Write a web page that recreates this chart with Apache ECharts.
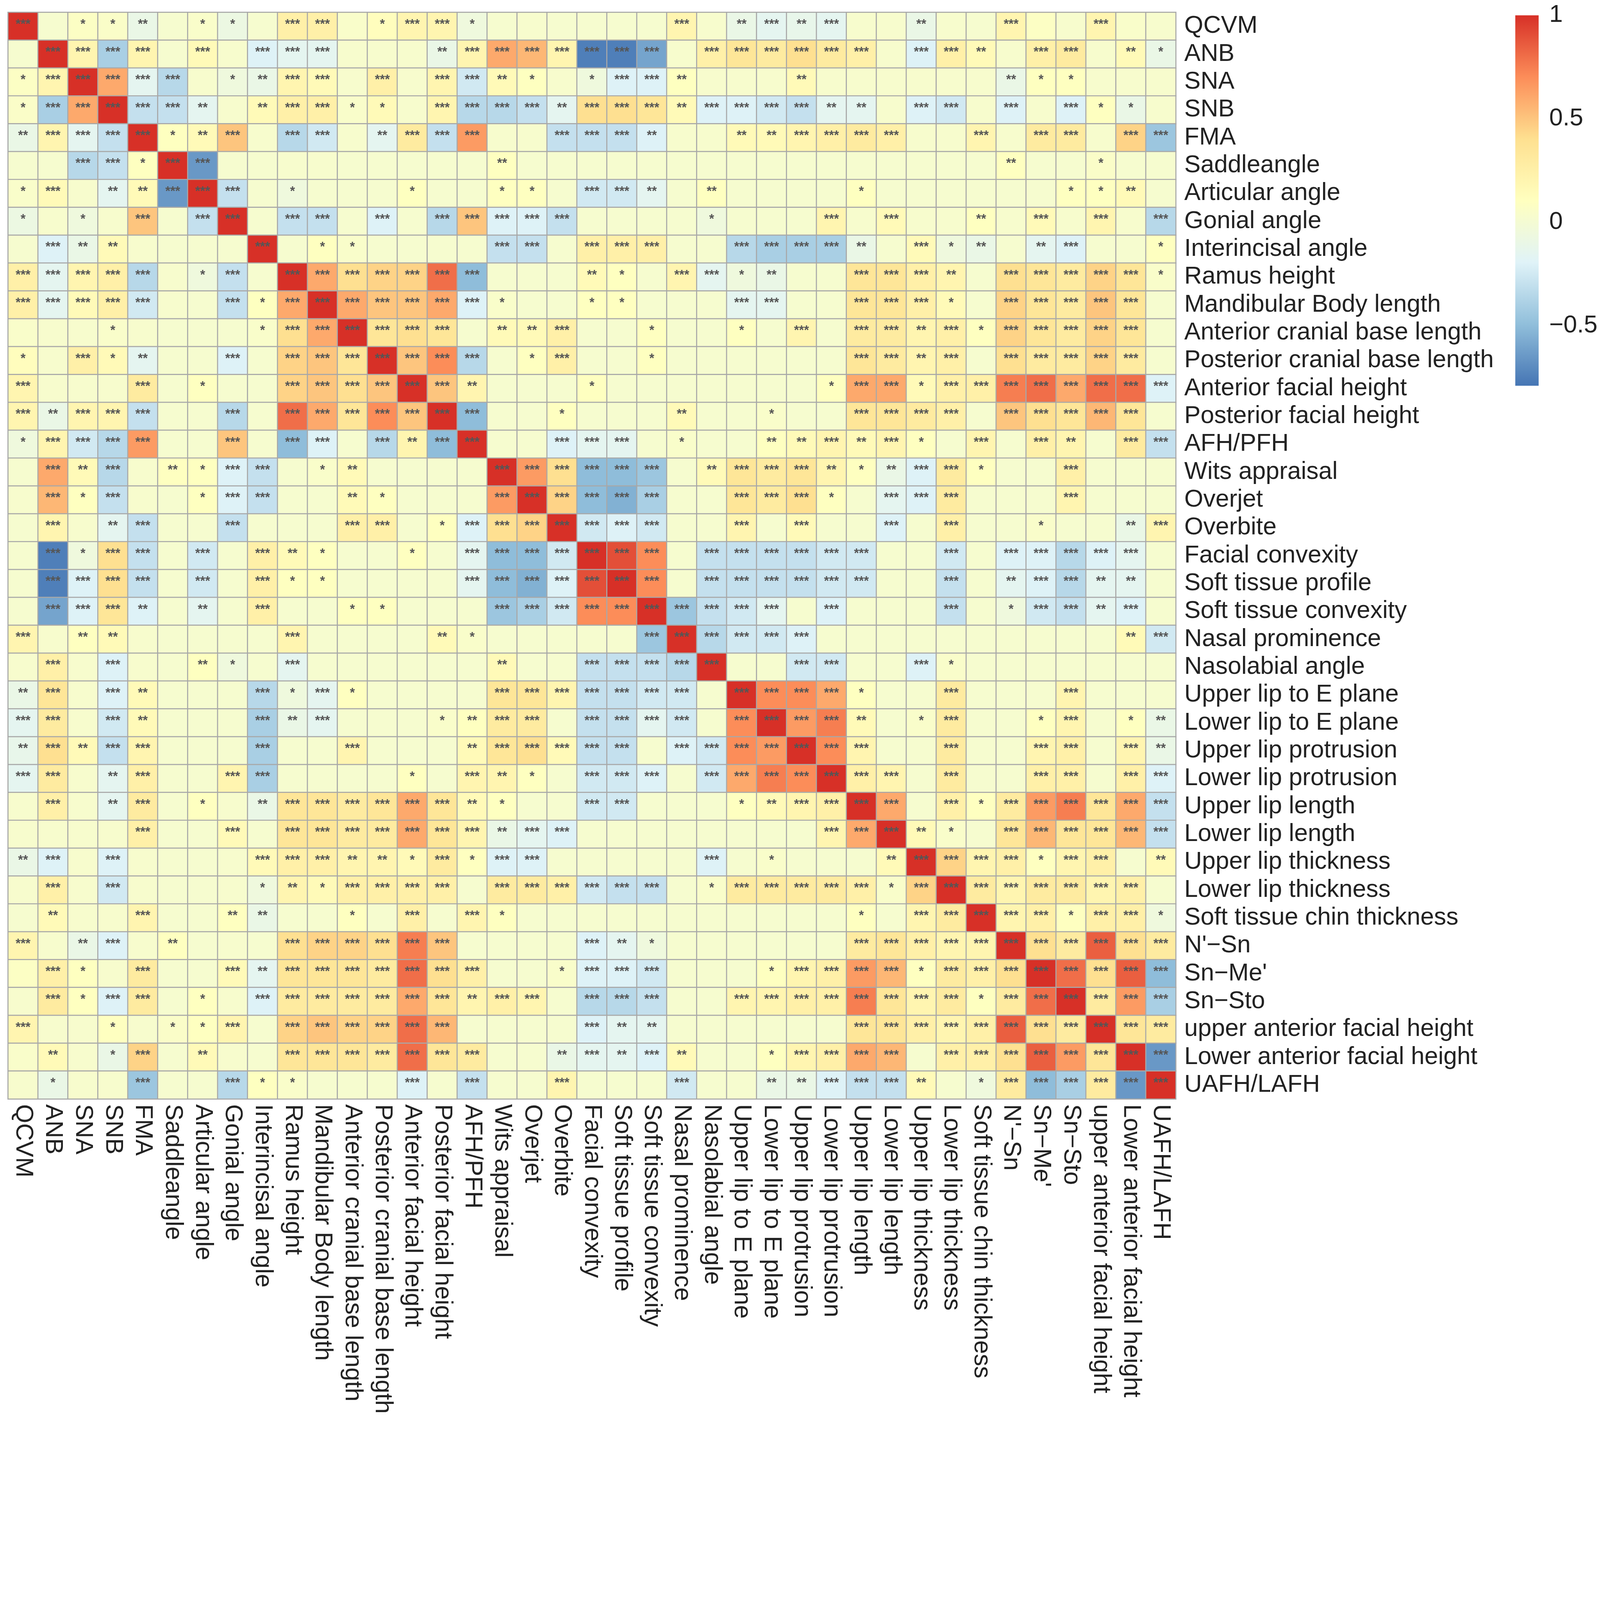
<!DOCTYPE html>
<html><head><meta charset="utf-8">
<script src="https://cdn.jsdelivr.net/npm/echarts@6/dist/echarts.min.js"></script>
<style>html,body{margin:0;padding:0;background:#fff;overflow:hidden}#c{width:100vw;height:100vh}</style>
</head><body><div id="c"></div>
<script>
const categories = ["QCVM","ANB","SNA","SNB","FMA","Saddleangle","Articular angle","Gonial angle","Interincisal angle","Ramus height","Mandibular Body length","Anterior cranial base length","Posterior cranial base length","Anterior facial height","Posterior facial height","AFH/PFH","Wits appraisal","Overjet","Overbite","Facial convexity","Soft tissue profile","Soft tissue convexity","Nasal prominence","Nasolabial angle","Upper lip to E plane","Lower lip to E plane","Upper lip protrusion","Lower lip protrusion","Upper lip length","Lower lip length","Upper lip thickness","Lower lip thickness","Soft tissue chin thickness","N'\u2212Sn","Sn\u2212Me'","Sn\u2212Sto","upper anterior facial height","Lower anterior facial height","UAFH/LAFH"];
const corrUpper = [
[0.02,0.08,0.06,-0.1,0.02,0.05,-0.08,0.02,0.25,0.25,0.05,0.12,0.2,0.2,-0.05,0.02,0.03,0.02,0.02,0.02,0.02,0.2,0.03,-0.1,-0.15,-0.12,-0.15,0.03,0.03,-0.1,0.03,0.02,0.2,0.08,0.03,0.2,0.05,0.03],
[0.2,-0.4,0.2,0.02,0.15,0.03,-0.2,-0.15,-0.15,0.03,0.03,0.03,-0.1,0.2,0.6,0.55,0.2,-0.75,-0.75,-0.6,0.03,0.25,0.35,0.3,0.4,0.3,0.25,0.03,-0.2,0.25,0.15,0.03,0.25,0.3,0.03,0.15,-0.1],
[0.6,-0.15,-0.35,0.03,-0.05,-0.1,0.2,0.15,0.03,0.25,0.03,0.2,-0.25,0.15,0.1,0.03,-0.05,-0.2,-0.2,0.1,0.03,0.03,0.03,0.15,0.03,0.03,0.03,0.03,0.03,0.03,-0.1,0.1,0.1,0.03,0.03,0.03],
[-0.3,-0.3,-0.15,0.03,0.15,0.25,0.25,0.05,0.15,0.03,0.2,-0.35,-0.35,-0.3,-0.15,0.4,0.4,0.35,0.15,-0.2,-0.2,-0.25,-0.3,-0.15,-0.15,0.03,-0.2,-0.25,0.03,-0.2,0.03,-0.2,0.1,-0.1,0.03],
[0.1,0.15,0.5,0.03,-0.35,-0.25,0.03,-0.15,0.3,-0.3,0.65,0.03,0.03,-0.3,-0.3,-0.3,-0.2,0.03,0.03,0.15,0.15,0.2,0.25,0.3,0.25,0.03,0.03,0.2,0.03,0.3,0.3,0.03,0.45,-0.45],
[-0.65,0.02,0.02,0.03,0.03,0.02,0.02,0.02,0.02,0.02,0.1,0.02,0.02,0.02,0.02,0.02,0.02,0.02,0.02,0.02,0.02,0.02,0.02,0.02,0.02,0.02,0.02,0.1,0.02,0.02,0.06,0.02,0.02],
[-0.3,0.02,-0.05,0.02,0.02,0.02,0.1,0.02,0.02,0.1,0.1,0.02,-0.25,-0.25,-0.15,0.02,0.1,0.02,0.02,0.02,0.02,0.1,0.02,0.02,0.02,0.02,0.02,0.02,0.1,0.1,0.15,0.02],
[0.02,-0.3,-0.3,0.02,-0.2,0.02,-0.35,0.5,-0.2,-0.2,-0.3,0.02,0.02,0.02,0.02,-0.05,0.02,0.02,0.02,0.2,0.03,0.15,0.03,0.03,0.1,0.03,0.15,0.03,0.2,0.03,-0.35],
[0.02,0.1,0.05,0.02,0.02,0.02,0.02,-0.3,-0.3,0.02,0.25,0.25,0.25,0.02,0.02,-0.35,-0.4,-0.4,-0.4,-0.1,0.02,0.15,-0.05,-0.1,0.02,-0.15,-0.2,0.02,0.02,0.1],
[0.6,0.4,0.45,0.45,0.8,-0.5,0.02,0.02,0.02,0.15,0.1,0.02,0.2,-0.15,-0.05,-0.1,0.02,0.02,0.35,0.35,0.25,0.2,0.02,0.4,0.35,0.3,0.45,0.35,0.05],
[0.6,0.5,0.5,0.6,-0.2,0.05,0.02,0.02,0.1,0.1,0.02,0.02,0.02,-0.15,-0.15,0.02,0.02,0.35,0.35,0.25,0.15,0.02,0.45,0.35,0.3,0.5,0.35,0.02],
[0.35,0.4,0.35,0.02,0.15,0.15,0.25,0.02,0.02,0.1,0.02,0.02,0.1,0.02,0.2,0.02,0.3,0.3,0.2,0.25,0.1,0.45,0.35,0.3,0.45,0.35,0.02],
[0.5,0.7,-0.35,0.02,0.1,0.25,0.02,0.02,0.1,0.02,0.02,0.02,0.02,0.02,0.02,0.35,0.3,0.2,0.25,0.02,0.4,0.3,0.3,0.45,0.3,0.02],
[0.5,0.2,0.02,0.02,0.02,0.1,0.02,0.02,0.02,0.02,0.02,0.02,0.02,0.1,0.6,0.6,0.15,0.25,0.25,0.75,0.8,0.6,0.8,0.8,-0.2],
[-0.5,0.02,0.02,0.1,0.02,0.02,0.02,0.15,0.02,0.02,0.05,0.02,0.02,0.35,0.35,0.3,0.25,0.02,0.5,0.4,0.35,0.55,0.35,0.02],
[0.02,0.02,-0.2,-0.15,-0.15,0.02,0.05,0.02,0.02,0.1,0.15,0.2,0.15,0.2,0.1,0.02,0.2,0.02,0.25,0.2,0.02,0.3,-0.3],
[0.65,0.4,-0.5,-0.5,-0.45,0.02,0.15,0.35,0.3,0.35,0.2,0.1,-0.1,-0.2,0.3,0.1,0.02,0.02,0.25,0.02,0.02,0.02],
[0.45,-0.5,-0.55,-0.4,0.02,0.02,0.35,0.3,0.4,0.1,0.02,-0.15,-0.2,0.3,0.02,0.02,0.02,0.2,0.02,0.02,0.02],
[-0.25,-0.2,-0.25,0.02,0.02,0.2,0.02,0.15,0.02,0.02,-0.2,0.02,0.25,0.02,0.02,0.05,0.02,0.02,-0.1,0.2],
[0.9,0.7,0.02,-0.3,-0.3,-0.3,-0.3,-0.25,-0.25,0.02,0.02,-0.25,0.02,-0.2,-0.2,-0.35,-0.2,-0.15,0.02],
[0.7,0.02,-0.3,-0.3,-0.3,-0.3,-0.25,-0.25,0.02,0.02,-0.3,0.02,-0.15,-0.2,-0.35,-0.15,-0.15,0.02],
[-0.45,-0.3,-0.25,-0.15,0.02,-0.2,0.02,0.02,0.02,-0.3,0.02,-0.05,-0.25,-0.3,-0.15,-0.2,0.02],
[-0.35,-0.25,-0.25,-0.2,0.02,0.02,0.02,0.02,0.02,0.02,0.02,0.02,0.02,0.02,0.15,-0.25],
[0.02,0.02,-0.25,-0.25,0.02,0.02,-0.2,0.05,0.02,0.02,0.02,0.02,0.02,0.02,0.02],
[0.7,0.7,0.6,0.1,0.02,0.02,0.3,0.02,0.02,0.02,0.2,0.02,0.02,0.02],
[0.65,0.75,0.15,0.02,0.05,0.3,0.02,0.02,0.1,0.2,0.02,0.1,-0.1],
[0.7,0.2,0.02,0.02,0.3,0.02,0.02,0.2,0.25,0.02,0.2,-0.1],
[0.25,0.2,0.02,0.3,0.02,0.02,0.25,0.25,0.02,0.25,-0.2],
[0.6,0.02,0.25,0.1,0.3,0.65,0.75,0.35,0.6,-0.3],
[0.15,0.05,0.02,0.35,0.55,0.35,0.35,0.55,-0.3],
[0.45,0.2,0.25,0.1,0.2,0.25,0.02,0.15],
[0.3,0.2,0.3,0.3,0.2,0.25,0.02],
[0.2,0.25,0.1,0.25,0.25,-0.05],
[0.4,0.3,0.85,0.4,0.3],
[0.8,0.4,0.85,-0.5],
[0.3,0.65,-0.4],
[0.35,0.3],
[-0.65]
];
const starsUpper = [
[0,1,1,2,0,1,1,0,3,3,0,1,3,3,1,0,0,0,0,0,0,3,0,2,3,2,3,0,0,2,0,0,3,0,0,3,0,0],
[3,3,3,0,3,0,3,3,3,0,0,0,2,3,3,3,3,3,3,3,0,3,3,3,3,3,3,0,3,3,2,0,3,3,0,2,1],
[3,3,3,0,1,2,3,3,0,3,0,3,3,2,1,0,1,3,3,2,0,0,0,2,0,0,0,0,0,0,2,1,1,0,0,0],
[3,3,2,0,2,3,3,1,1,0,3,3,3,3,2,3,3,3,2,3,3,3,3,2,2,0,3,3,0,3,0,3,1,1,0],
[1,2,3,0,3,3,0,2,3,3,3,0,0,3,3,3,2,0,0,2,2,3,3,3,3,0,0,3,0,3,3,0,3,3],
[3,0,0,0,0,0,0,0,0,0,2,0,0,0,0,0,0,0,0,0,0,0,0,0,0,0,0,2,0,0,1,0,0],
[3,0,1,0,0,0,1,0,0,1,1,0,3,3,2,0,2,0,0,0,0,1,0,0,0,0,0,0,1,1,2,0],
[0,3,3,0,3,0,3,3,3,3,3,0,0,0,0,1,0,0,0,3,0,3,0,0,2,0,3,0,3,0,3],
[0,1,1,0,0,0,0,3,3,0,3,3,3,0,0,3,3,3,3,2,0,3,1,2,0,2,3,0,0,1],
[3,3,3,3,3,3,0,0,0,2,1,0,3,3,1,2,0,0,3,3,3,2,0,3,3,3,3,3,1],
[3,3,3,3,3,1,0,0,1,1,0,0,0,3,3,0,0,3,3,3,1,0,3,3,3,3,3,0],
[3,3,3,0,2,2,3,0,0,1,0,0,1,0,3,0,3,3,2,3,1,3,3,3,3,3,0],
[3,3,3,0,1,3,0,0,1,0,0,0,0,0,0,3,3,2,3,0,3,3,3,3,3,0],
[3,2,0,0,0,1,0,0,0,0,0,0,0,1,3,3,1,3,3,3,3,3,3,3,3],
[3,0,0,1,0,0,0,2,0,0,1,0,0,3,3,3,3,0,3,3,3,3,3,0],
[0,0,3,3,3,0,1,0,0,2,2,3,2,3,1,0,3,0,3,2,0,3,3],
[3,3,3,3,3,0,2,3,3,3,2,1,2,3,3,1,0,0,3,0,0,0],
[3,3,3,3,0,0,3,3,3,1,0,3,3,3,0,0,0,3,0,0,0],
[3,3,3,0,0,3,0,3,0,0,3,0,3,0,0,1,0,0,2,3],
[3,3,0,3,3,3,3,3,3,0,0,3,0,3,3,3,3,3,0],
[3,0,3,3,3,3,3,3,0,0,3,0,2,3,3,2,2,0],
[3,3,3,3,0,3,0,0,0,3,0,1,3,3,2,3,0],
[3,3,3,3,0,0,0,0,0,0,0,0,0,0,2,3],
[0,0,3,3,0,0,3,1,0,0,0,0,0,0,0],
[3,3,3,1,0,0,3,0,0,0,3,0,0,0],
[3,3,2,0,1,3,0,0,1,3,0,1,2],
[3,3,0,0,3,0,0,3,3,0,3,2],
[3,3,0,3,0,0,3,3,0,3,3],
[3,0,3,1,3,3,3,3,3,3],
[2,1,0,3,3,3,3,3,3],
[3,3,3,1,3,3,0,2],
[3,3,3,3,3,3,0],
[3,3,1,3,3,1],
[3,3,3,3,3],
[3,3,3,3],
[3,3,3],
[3,3],
[3]
];
const legendTicks = [1, 0.5, 0, -0.5];
const colorMin = -0.79, colorMax = 1;
const palette = ['#4575B4','#91BFDB','#E0F3F8','#FFFFBF','#FEE090','#FC8D59','#D73027'];

const n = categories.length;
const data = [];
for (let i = 0; i < n; i++) {
  for (let j = 0; j < n; j++) {
    let v, s;
    if (i === j) { v = 1; s = 3; }
    else if (j > i) { v = corrUpper[i][j - i - 1]; s = starsUpper[i][j - i - 1]; }
    else { v = corrUpper[j][i - j - 1]; s = starsUpper[j][i - j - 1]; }
    data.push([j, i, v, s]);
  }
}
const el = document.getElementById('c');
const chart = echarts.init(el);
const W = chart.getWidth();
const k = W / 7536;
const gx = 38*k, gy = 58*k, gw = 5500*k, gh = 5118*k;
const lx = 7137*k, ly = 72*k, lw = 110*k, lh = 1745*k;
const fs = 115*k;
const graphics = [{
  type: 'rect', shape: {x: lx, y: ly, width: lw, height: lh},
  style: {fill: {type: 'linear', x: 0, y: 0, x2: 0, y2: 1,
    colorStops: palette.slice().reverse().map((c, i) => ({offset: i / (palette.length - 1), color: c}))}}
}];
legendTicks.forEach(t => {
  const y = ly + (colorMax - t) / (colorMax - colorMin) * lh;
  graphics.push({type: 'text', x: lx + lw + 50*k, y: y,
    style: {text: String(t).replace('-', '\u2212'), font: fs + 'px "Liberation Sans", Arial, sans-serif', fill: '#222', textVerticalAlign: 'middle'}});
});
chart.setOption({
  animation: false,
  backgroundColor: '#fff',
  grid: {left: gx, top: gy, width: gw, height: gh},
  xAxis: {type: 'category', data: categories, position: 'bottom',
    axisLine: {show: false}, axisTick: {show: false}, splitLine: {show: false},
    axisLabel: {rotate: -90, fontSize: fs, color: '#222', margin: 25*k, fontFamily: '"Liberation Sans", Arial, sans-serif', interval: 0}},
  yAxis: {type: 'category', data: categories, inverse: true, position: 'right',
    axisLine: {show: false}, axisTick: {show: false}, splitLine: {show: false},
    axisLabel: {fontSize: fs, color: '#222', margin: 40*k, fontFamily: '"Liberation Sans", Arial, sans-serif', interval: 0}},
  visualMap: {show: false, type: 'continuous', min: colorMin, max: colorMax, dimension: 2, inRange: {color: palette}},
  graphic: graphics,
  series: [{
    type: 'heatmap', data: data,
    itemStyle: {borderColor: '#a8a8a8', borderWidth: 5*k},
    label: {show: true, color: '#555', fontSize: 60*k, fontWeight: 'bold', offset: [0, -8*k],
      formatter: p => '*'.repeat(p.data[3])}
  }]
});
</script></body></html>
